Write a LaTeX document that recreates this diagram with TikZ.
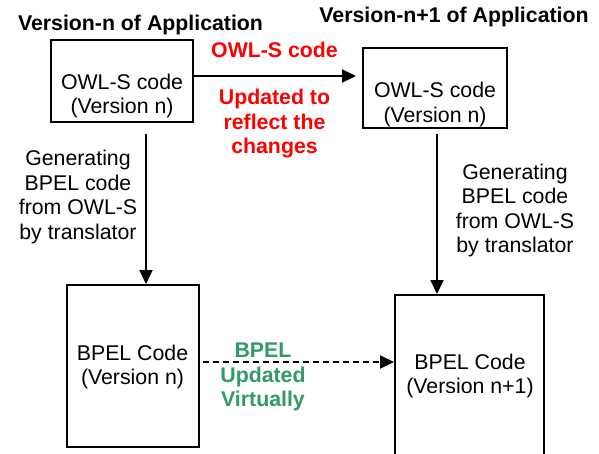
\documentclass[tikz,border=0pt]{standalone}
\usepackage{fontspec}
\setmainfont{Liberation Sans}
\usetikzlibrary{arrows.meta}
\definecolor{redtxt}{RGB}{255,0,0}
\definecolor{greentxt}{RGB}{51,153,102}
\begin{document}
\begin{tikzpicture}[x=1pt,y=-1pt,
  every node/.style={font=\fontsize{21.3}{24.5}\selectfont, inner sep=0pt, align=center},
  codebox/.style={draw, line width=2pt, inner sep=0pt},
  boldtxt/.style={font=\fontsize{21.3}{24.5}\selectfont\bfseries},
  conn/.style={line width=2pt, -{Triangle[length=14pt,width=13pt]}}
]
\clip (0,0) rectangle (599,453);
\fill[white] (0,0) rectangle (599,453);

% titles
\node[boldtxt, anchor=base] (t1) at (140.5,30) {Version-n of Application};
\node[boldtxt, anchor=base] (t2) at (454,22.5) {Version-n+1 of Application};

% boxes
\node[codebox, minimum width=142pt, minimum height=82pt] (b1) at (122,81) {};
\node[codebox, minimum width=144pt, minimum height=80pt] (b2) at (435,88) {};
\node[codebox, minimum width=132pt, minimum height=162pt] (b3) at (133,366) {};
\node[codebox, minimum width=149pt, minimum height=185pt] (b4) at (469.5,387.5) {};

% box texts
\node (b1t) at (122,96) {OWL-S code\\(Version n)};
\node (b2t) at (435,104.5) {OWL-S code\\(Version n)};
\node (b3t) at (132.5,367) {BPEL Code\\(Version n)};
\node (b4t) at (470,376) {BPEL Code\\(Version n+1)};

% helper coordinates
\coordinate (ty) at (0,76);
\coordinate (by) at (0,362);
\coordinate (lx) at (146,0);
\coordinate (rx) at (437,0);

% connectors
\draw[conn, shorten >=6pt] (b1.east |- ty) -- (b2.west |- ty);
\draw[conn, shorten <=11pt] (b1.south -| lx) -- (b3.north -| lx);
\draw[conn, shorten <=5pt] (b2.south -| rx) -- (b4.north -| rx);
\draw[conn, dash pattern=on 6pt off 4pt, shorten <=3pt] (b3.east |- by) -- (b4.west |- by);

% labels
\node[boldtxt, text=redtxt] (r1) at (274.5,50) {OWL-S code};
\node[boldtxt, text=redtxt] (r2) at (274.5,124) {Updated to\\reflect the\\changes};
\node (g1) at (78,197) {Generating\\BPEL code\\from OWL-S\\by translator};
\node (g2) at (515,210.5) {Generating\\BPEL code\\from OWL-S\\by translator};
\node[boldtxt, text=greentxt] (v1) at (263,377) {BPEL\\Updated\\Virtually};
\end{tikzpicture}
\end{document}
